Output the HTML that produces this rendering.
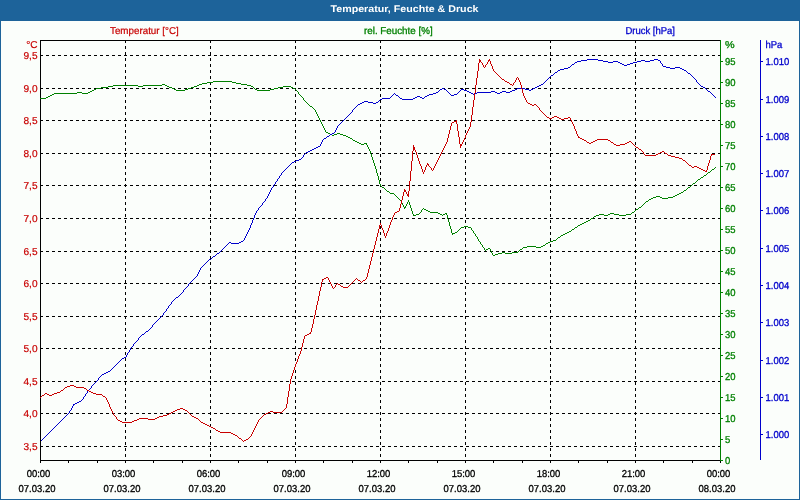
<!DOCTYPE html>
<html><head><meta charset="utf-8"><title>Temperatur, Feuchte &amp; Druck</title>
<style>
html,body{margin:0;padding:0;background:#1d639a;}
body{width:800px;height:500px;overflow:hidden;position:relative;}
svg{position:absolute;left:0;top:0;display:block;}
text{font-family:"Liberation Sans",sans-serif;font-size:10px;text-rendering:geometricPrecision;}
.t{font-weight:bold;font-size:9.7px;fill:#fff;}
.r{fill:#c80000;stroke:#c80000;} .g{fill:#008000;stroke:#008000;} .b{fill:#0000cc;stroke:#0000cc;} .k{fill:#000;stroke:#000;}
.r,.g,.b,.k{stroke-width:0.3px;} .r{stroke-width:0.2px;}
</style></head><body>
<svg width="800" height="500" viewBox="0 0 800 500">
<rect x="0" y="0" width="800" height="500" fill="#1d639a"/>
<rect x="1" y="21" width="798" height="478" fill="#fbfefb"/>
<text class="t" x="404.5" y="12" text-anchor="middle" textLength="148" lengthAdjust="spacingAndGlyphs">Temperatur, Feuchte &amp; Druck</text>
<g shape-rendering="crispEdges" fill="none" stroke-width="1">

<line x1="40" y1="55.5" x2="720" y2="55.5" stroke="#000" stroke-dasharray="3 3"/>
<line x1="40" y1="88.5" x2="720" y2="88.5" stroke="#000" stroke-dasharray="3 3"/>
<line x1="40" y1="120.5" x2="720" y2="120.5" stroke="#000" stroke-dasharray="3 3"/>
<line x1="40" y1="153.5" x2="720" y2="153.5" stroke="#000" stroke-dasharray="3 3"/>
<line x1="40" y1="185.5" x2="720" y2="185.5" stroke="#000" stroke-dasharray="3 3"/>
<line x1="40" y1="218.5" x2="720" y2="218.5" stroke="#000" stroke-dasharray="3 3"/>
<line x1="40" y1="251.5" x2="720" y2="251.5" stroke="#000" stroke-dasharray="3 3"/>
<line x1="40" y1="283.5" x2="720" y2="283.5" stroke="#000" stroke-dasharray="3 3"/>
<line x1="40" y1="316.5" x2="720" y2="316.5" stroke="#000" stroke-dasharray="3 3"/>
<line x1="40" y1="348.5" x2="720" y2="348.5" stroke="#000" stroke-dasharray="3 3"/>
<line x1="40" y1="381.5" x2="720" y2="381.5" stroke="#000" stroke-dasharray="3 3"/>
<line x1="40" y1="413.5" x2="720" y2="413.5" stroke="#000" stroke-dasharray="3 3"/>
<line x1="40" y1="446.5" x2="720" y2="446.5" stroke="#000" stroke-dasharray="3 3"/>
<line x1="125.5" y1="40" x2="125.5" y2="460" stroke="#000" stroke-dasharray="3 3"/>
<line x1="210.5" y1="40" x2="210.5" y2="460" stroke="#000" stroke-dasharray="3 3"/>
<line x1="295.5" y1="40" x2="295.5" y2="460" stroke="#000" stroke-dasharray="3 3"/>
<line x1="380.5" y1="40" x2="380.5" y2="460" stroke="#000" stroke-dasharray="3 3"/>
<line x1="465.5" y1="40" x2="465.5" y2="460" stroke="#000" stroke-dasharray="3 3"/>
<line x1="550.5" y1="40" x2="550.5" y2="460" stroke="#000" stroke-dasharray="3 3"/>
<line x1="635.5" y1="40" x2="635.5" y2="460" stroke="#000" stroke-dasharray="3 3"/>
<line x1="40" y1="40.5" x2="721" y2="40.5" stroke="#000"/>
<line x1="40.5" y1="40" x2="40.5" y2="461" stroke="#000"/>
<line x1="40" y1="460.5" x2="721" y2="460.5" stroke="#000"/>
<line x1="40.5" y1="461" x2="40.5" y2="463" stroke="#000"/>
<line x1="68.5" y1="461" x2="68.5" y2="463" stroke="#000"/>
<line x1="97.5" y1="461" x2="97.5" y2="463" stroke="#000"/>
<line x1="125.5" y1="461" x2="125.5" y2="463" stroke="#000"/>
<line x1="153.5" y1="461" x2="153.5" y2="463" stroke="#000"/>
<line x1="182.5" y1="461" x2="182.5" y2="463" stroke="#000"/>
<line x1="210.5" y1="461" x2="210.5" y2="463" stroke="#000"/>
<line x1="238.5" y1="461" x2="238.5" y2="463" stroke="#000"/>
<line x1="267.5" y1="461" x2="267.5" y2="463" stroke="#000"/>
<line x1="295.5" y1="461" x2="295.5" y2="463" stroke="#000"/>
<line x1="323.5" y1="461" x2="323.5" y2="463" stroke="#000"/>
<line x1="352.5" y1="461" x2="352.5" y2="463" stroke="#000"/>
<line x1="380.5" y1="461" x2="380.5" y2="463" stroke="#000"/>
<line x1="408.5" y1="461" x2="408.5" y2="463" stroke="#000"/>
<line x1="437.5" y1="461" x2="437.5" y2="463" stroke="#000"/>
<line x1="465.5" y1="461" x2="465.5" y2="463" stroke="#000"/>
<line x1="493.5" y1="461" x2="493.5" y2="463" stroke="#000"/>
<line x1="522.5" y1="461" x2="522.5" y2="463" stroke="#000"/>
<line x1="550.5" y1="461" x2="550.5" y2="463" stroke="#000"/>
<line x1="578.5" y1="461" x2="578.5" y2="463" stroke="#000"/>
<line x1="607.5" y1="461" x2="607.5" y2="463" stroke="#000"/>
<line x1="635.5" y1="461" x2="635.5" y2="463" stroke="#000"/>
<line x1="663.5" y1="461" x2="663.5" y2="463" stroke="#000"/>
<line x1="692.5" y1="461" x2="692.5" y2="463" stroke="#000"/>
<line x1="720.5" y1="461" x2="720.5" y2="463" stroke="#000"/>
<line x1="720.5" y1="40" x2="720.5" y2="461" stroke="#008000"/>
<line x1="721" y1="460.5" x2="723" y2="460.5" stroke="#008000"/>
<line x1="721" y1="439.5" x2="723" y2="439.5" stroke="#008000"/>
<line x1="721" y1="418.5" x2="723" y2="418.5" stroke="#008000"/>
<line x1="721" y1="397.5" x2="723" y2="397.5" stroke="#008000"/>
<line x1="721" y1="376.5" x2="723" y2="376.5" stroke="#008000"/>
<line x1="721" y1="355.5" x2="723" y2="355.5" stroke="#008000"/>
<line x1="721" y1="334.5" x2="723" y2="334.5" stroke="#008000"/>
<line x1="721" y1="313.5" x2="723" y2="313.5" stroke="#008000"/>
<line x1="721" y1="292.5" x2="723" y2="292.5" stroke="#008000"/>
<line x1="721" y1="271.5" x2="723" y2="271.5" stroke="#008000"/>
<line x1="721" y1="250.5" x2="723" y2="250.5" stroke="#008000"/>
<line x1="721" y1="229.5" x2="723" y2="229.5" stroke="#008000"/>
<line x1="721" y1="208.5" x2="723" y2="208.5" stroke="#008000"/>
<line x1="721" y1="187.5" x2="723" y2="187.5" stroke="#008000"/>
<line x1="721" y1="166.5" x2="723" y2="166.5" stroke="#008000"/>
<line x1="721" y1="145.5" x2="723" y2="145.5" stroke="#008000"/>
<line x1="721" y1="124.5" x2="723" y2="124.5" stroke="#008000"/>
<line x1="721" y1="103.5" x2="723" y2="103.5" stroke="#008000"/>
<line x1="721" y1="82.5" x2="723" y2="82.5" stroke="#008000"/>
<line x1="721" y1="61.5" x2="723" y2="61.5" stroke="#008000"/>
<line x1="760.5" y1="40" x2="760.5" y2="460" stroke="#0000cc"/>
<line x1="761" y1="434.5" x2="763" y2="434.5" stroke="#0000cc"/>
<line x1="761" y1="397.5" x2="763" y2="397.5" stroke="#0000cc"/>
<line x1="761" y1="360.5" x2="763" y2="360.5" stroke="#0000cc"/>
<line x1="761" y1="322.5" x2="763" y2="322.5" stroke="#0000cc"/>
<line x1="761" y1="285.5" x2="763" y2="285.5" stroke="#0000cc"/>
<line x1="761" y1="248.5" x2="763" y2="248.5" stroke="#0000cc"/>
<line x1="761" y1="210.5" x2="763" y2="210.5" stroke="#0000cc"/>
<line x1="761" y1="173.5" x2="763" y2="173.5" stroke="#0000cc"/>
<line x1="761" y1="136.5" x2="763" y2="136.5" stroke="#0000cc"/>
<line x1="761" y1="99.5" x2="763" y2="99.5" stroke="#0000cc"/>
<line x1="761" y1="61.5" x2="763" y2="61.5" stroke="#0000cc"/>
<path d="M298 92h1v2h-1zM303 98h1v2h-1zM315 110h1v2h-1zM316 112h1v2h-1zM317 114h1v2h-1zM318 116h1v2h-1zM319 118h1v2h-1zM320 120h1v2h-1zM321 122h1v2h-1zM322 124h1v2h-1zM323 126h1v2h-1zM324 128h1v2h-1zM325 130h1v2h-1zM366 143h1v2h-1zM367 145h1v2h-1zM368 147h1v2h-1zM369 149h1v2h-1zM370 151h1v3h-1zM371 154h1v3h-1zM372 157h1v3h-1zM373 160h1v3h-1zM374 163h1v3h-1zM375 166h1v3h-1zM376 169h1v4h-1zM377 173h1v3h-1zM378 176h1v4h-1zM379 180h1v4h-1zM380 184h1v2h-1zM401 201h1v2h-1zM402 203h1v2h-1zM403 205h1v2h-1zM404 207h1v2h-1zM405 206h1v2h-1zM406 204h1v2h-1zM407 202h1v2h-1zM408 200h1v2h-1zM409 202h1v3h-1zM410 205h1v3h-1zM411 208h1v3h-1zM412 211h1v3h-1zM413 214h1v2h-1zM421 210h1v2h-1zM446 213h1v2h-1zM447 215h1v4h-1zM448 219h1v3h-1zM449 222h1v4h-1zM450 226h1v3h-1zM451 229h1v4h-1zM452 233h1v2h-1zM471 228h1v2h-1zM473 231h1v2h-1zM475 234h1v2h-1zM477 237h1v2h-1zM478 239h1v2h-1zM480 242h1v2h-1zM482 245h1v2h-1zM484 248h1v2h-1zM490 249h1v2h-1zM491 251h1v2h-1zM492 253h1v2h-1zM213 81h19v1h-19zM207 82h6v1h-6zM232 82h4v1h-4zM202 83h5v1h-5zM236 83h5v1h-5zM162 84h3v1h-3zM199 84h3v1h-3zM241 84h6v1h-6zM113 85h25v1h-25zM143 85h19v1h-19zM165 85h2v1h-2zM197 85h2v1h-2zM247 85h4v1h-4zM108 86h5v1h-5zM138 86h5v1h-5zM167 86h2v1h-2zM194 86h3v1h-3zM251 86h2v1h-2zM283 86h8v1h-8zM101 87h7v1h-7zM169 87h3v1h-3zM191 87h3v1h-3zM253 87h1v1h-1zM278 87h5v1h-5zM291 87h2v1h-2zM96 88h5v1h-5zM172 88h2v1h-2zM188 88h3v1h-3zM254 88h1v1h-1zM274 88h4v1h-4zM293 88h2v1h-2zM94 89h2v1h-2zM174 89h2v1h-2zM185 89h3v1h-3zM255 89h2v1h-2zM270 89h4v1h-4zM295 89h1v1h-1zM92 90h2v1h-2zM176 90h9v1h-9zM257 90h13v1h-13zM296 90h1v1h-1zM90 91h2v1h-2zM297 91h1v1h-1zM77 92h5v1h-5zM88 92h2v1h-2zM54 93h23v1h-23zM82 93h6v1h-6zM52 94h2v1h-2zM299 94h1v1h-1zM50 95h2v1h-2zM300 95h1v1h-1zM48 96h2v1h-2zM301 96h1v1h-1zM46 97h2v1h-2zM302 97h1v1h-1zM40 98h6v1h-6zM304 100h1v1h-1zM305 101h1v1h-1zM306 102h1v1h-1zM307 103h1v1h-1zM308 104h1v1h-1zM309 105h1v1h-1zM310 106h2v1h-2zM312 107h1v1h-1zM313 108h1v1h-1zM314 109h1v1h-1zM326 132h2v1h-2zM328 133h2v1h-2zM337 133h3v1h-3zM330 134h2v1h-2zM334 134h3v1h-3zM340 134h3v1h-3zM332 135h2v1h-2zM343 135h3v1h-3zM346 136h2v1h-2zM348 137h2v1h-2zM350 138h2v1h-2zM352 139h1v1h-1zM353 140h2v1h-2zM355 141h2v1h-2zM357 142h2v1h-2zM359 143h2v1h-2zM364 143h2v1h-2zM361 144h3v1h-3zM715 167h1v1h-1zM714 168h1v1h-1zM712 169h2v1h-2zM711 170h1v1h-1zM710 171h1v1h-1zM708 172h2v1h-2zM707 173h1v1h-1zM706 174h1v1h-1zM704 175h2v1h-2zM703 176h1v1h-1zM701 177h2v1h-2zM700 178h1v1h-1zM698 179h2v1h-2zM697 180h1v1h-1zM696 181h1v1h-1zM695 182h1v1h-1zM693 183h2v1h-2zM692 184h1v1h-1zM691 185h1v1h-1zM381 186h1v1h-1zM690 186h1v1h-1zM382 187h2v1h-2zM688 187h2v1h-2zM384 188h1v1h-1zM687 188h1v1h-1zM385 189h1v1h-1zM686 189h1v1h-1zM386 190h1v1h-1zM684 190h2v1h-2zM387 191h2v1h-2zM683 191h1v1h-1zM389 192h1v1h-1zM681 192h2v1h-2zM390 193h4v1h-4zM679 193h2v1h-2zM394 194h1v1h-1zM677 194h2v1h-2zM395 195h1v1h-1zM675 195h2v1h-2zM396 196h1v1h-1zM656 196h4v1h-4zM673 196h2v1h-2zM397 197h1v1h-1zM653 197h3v1h-3zM660 197h2v1h-2zM668 197h5v1h-5zM398 198h1v1h-1zM651 198h2v1h-2zM662 198h6v1h-6zM399 199h1v1h-1zM649 199h2v1h-2zM400 200h1v1h-1zM648 200h1v1h-1zM646 201h2v1h-2zM645 202h1v1h-1zM644 203h1v1h-1zM643 204h1v1h-1zM642 205h1v1h-1zM641 206h1v1h-1zM639 207h2v1h-2zM423 208h1v1h-1zM638 208h1v1h-1zM422 209h1v1h-1zM424 209h2v1h-2zM636 209h2v1h-2zM426 210h2v1h-2zM635 210h1v1h-1zM428 211h2v1h-2zM634 211h1v1h-1zM420 212h1v1h-1zM430 212h8v1h-8zM632 212h2v1h-2zM419 213h1v1h-1zM438 213h2v1h-2zM445 213h1v1h-1zM610 213h4v1h-4zM631 213h1v1h-1zM416 214h3v1h-3zM440 214h2v1h-2zM443 214h2v1h-2zM599 214h5v1h-5zM608 214h2v1h-2zM614 214h5v1h-5zM626 214h5v1h-5zM414 215h2v1h-2zM442 215h1v1h-1zM596 215h3v1h-3zM604 215h4v1h-4zM619 215h7v1h-7zM594 216h2v1h-2zM593 217h1v1h-1zM591 218h2v1h-2zM590 219h1v1h-1zM588 220h2v1h-2zM586 221h2v1h-2zM584 222h2v1h-2zM582 223h2v1h-2zM580 224h2v1h-2zM578 225h2v1h-2zM464 226h4v1h-4zM577 226h1v1h-1zM461 227h3v1h-3zM468 227h3v1h-3zM575 227h2v1h-2zM460 228h1v1h-1zM574 228h1v1h-1zM459 229h1v1h-1zM572 229h2v1h-2zM458 230h1v1h-1zM472 230h1v1h-1zM571 230h1v1h-1zM457 231h1v1h-1zM569 231h2v1h-2zM455 232h2v1h-2zM567 232h2v1h-2zM453 233h2v1h-2zM474 233h1v1h-1zM565 233h2v1h-2zM563 234h2v1h-2zM561 235h2v1h-2zM476 236h1v1h-1zM560 236h1v1h-1zM558 237h2v1h-2zM557 238h1v1h-1zM556 239h1v1h-1zM553 240h3v1h-3zM479 241h1v1h-1zM550 241h3v1h-3zM548 242h2v1h-2zM546 243h2v1h-2zM481 244h1v1h-1zM545 244h1v1h-1zM543 245h2v1h-2zM527 246h9v1h-9zM541 246h2v1h-2zM483 247h1v1h-1zM523 247h4v1h-4zM536 247h5v1h-5zM488 248h2v1h-2zM522 248h1v1h-1zM486 249h2v1h-2zM520 249h2v1h-2zM485 250h1v1h-1zM519 250h1v1h-1zM518 251h1v1h-1zM502 252h3v1h-3zM512 252h6v1h-6zM498 253h4v1h-4zM505 253h7v1h-7zM495 254h3v1h-3zM493 255h2v1h-2z" fill="#008000" stroke="none"/>
<path d="M69 411h1v2h-1zM71 408h1v2h-1zM72 406h1v2h-1zM73 404h1v2h-1zM83 397h1v2h-1zM85 394h1v2h-1zM87 391h1v2h-1zM91 386h1v2h-1zM98 378h1v2h-1zM126 355h1v2h-1zM127 353h1v2h-1zM129 350h1v2h-1zM130 348h1v2h-1zM133 344h1v2h-1zM138 338h1v2h-1zM152 325h1v2h-1zM163 313h1v2h-1zM166 309h1v2h-1zM168 306h1v2h-1zM171 302h1v2h-1zM183 290h1v2h-1zM188 284h1v2h-1zM197 274h1v2h-1zM198 272h1v2h-1zM199 270h1v2h-1zM200 268h1v2h-1zM244 238h1v2h-1zM245 236h1v2h-1zM246 234h1v2h-1zM247 232h1v2h-1zM248 230h1v2h-1zM249 228h1v2h-1zM250 225h1v3h-1zM251 223h1v2h-1zM252 220h1v3h-1zM253 218h1v2h-1zM254 215h1v3h-1zM255 213h1v2h-1zM256 211h1v2h-1zM258 208h1v2h-1zM262 203h1v2h-1zM265 199h1v2h-1zM267 196h1v2h-1zM268 194h1v2h-1zM269 192h1v2h-1zM270 190h1v2h-1zM271 188h1v2h-1zM273 185h1v2h-1zM275 182h1v2h-1zM277 179h1v2h-1zM279 176h1v2h-1zM281 173h1v2h-1zM303 155h1v2h-1zM320 144h1v2h-1zM321 142h1v2h-1zM322 140h1v2h-1zM335 130h1v2h-1zM336 128h1v2h-1zM337 126h1v2h-1zM352 110h1v2h-1zM660 61h1v2h-1zM662 64h1v2h-1zM696 80h1v2h-1zM587 59h11v1h-11zM654 59h4v1h-4zM581 60h6v1h-6zM598 60h5v1h-5zM641 60h4v1h-4zM650 60h4v1h-4zM658 60h2v1h-2zM577 61h4v1h-4zM603 61h5v1h-5zM613 61h5v1h-5zM637 61h4v1h-4zM645 61h5v1h-5zM575 62h2v1h-2zM608 62h5v1h-5zM618 62h2v1h-2zM633 62h4v1h-4zM574 63h1v1h-1zM620 63h2v1h-2zM630 63h3v1h-3zM661 63h1v1h-1zM572 64h2v1h-2zM622 64h2v1h-2zM627 64h3v1h-3zM571 65h1v1h-1zM624 65h3v1h-3zM570 66h1v1h-1zM663 66h3v1h-3zM568 67h2v1h-2zM666 67h4v1h-4zM675 67h5v1h-5zM564 68h4v1h-4zM670 68h5v1h-5zM680 68h2v1h-2zM560 69h4v1h-4zM682 69h2v1h-2zM558 70h2v1h-2zM684 70h2v1h-2zM557 71h1v1h-1zM686 71h1v1h-1zM555 72h2v1h-2zM687 72h1v1h-1zM554 73h1v1h-1zM688 73h2v1h-2zM553 74h1v1h-1zM690 74h1v1h-1zM551 75h2v1h-2zM691 75h1v1h-1zM550 76h1v1h-1zM692 76h1v1h-1zM549 77h1v1h-1zM693 77h1v1h-1zM548 78h1v1h-1zM694 78h1v1h-1zM547 79h1v1h-1zM695 79h1v1h-1zM546 80h1v1h-1zM545 81h1v1h-1zM544 82h1v1h-1zM697 82h1v1h-1zM543 83h1v1h-1zM698 83h1v1h-1zM541 84h2v1h-2zM699 84h1v1h-1zM539 85h2v1h-2zM700 85h1v1h-1zM537 86h2v1h-2zM701 86h2v1h-2zM535 87h2v1h-2zM703 87h2v1h-2zM442 88h2v1h-2zM517 88h8v1h-8zM533 88h2v1h-2zM705 88h1v1h-1zM440 89h2v1h-2zM444 89h2v1h-2zM461 89h3v1h-3zM515 89h2v1h-2zM525 89h4v1h-4zM531 89h2v1h-2zM706 89h1v1h-1zM439 90h1v1h-1zM446 90h1v1h-1zM460 90h1v1h-1zM464 90h3v1h-3zM512 90h3v1h-3zM529 90h2v1h-2zM707 90h1v1h-1zM438 91h1v1h-1zM447 91h1v1h-1zM459 91h1v1h-1zM467 91h2v1h-2zM491 91h4v1h-4zM502 91h4v1h-4zM510 91h2v1h-2zM708 91h2v1h-2zM436 92h2v1h-2zM448 92h1v1h-1zM458 92h1v1h-1zM469 92h2v1h-2zM477 92h14v1h-14zM495 92h2v1h-2zM500 92h2v1h-2zM506 92h4v1h-4zM710 92h1v1h-1zM394 93h1v1h-1zM433 93h3v1h-3zM449 93h1v1h-1zM457 93h1v1h-1zM471 93h2v1h-2zM475 93h2v1h-2zM497 93h3v1h-3zM711 93h1v1h-1zM393 94h1v1h-1zM395 94h1v1h-1zM429 94h4v1h-4zM450 94h1v1h-1zM454 94h3v1h-3zM473 94h2v1h-2zM712 94h1v1h-1zM392 95h1v1h-1zM396 95h2v1h-2zM427 95h2v1h-2zM451 95h3v1h-3zM713 95h1v1h-1zM391 96h1v1h-1zM398 96h1v1h-1zM417 96h3v1h-3zM425 96h2v1h-2zM714 96h1v1h-1zM390 97h1v1h-1zM399 97h1v1h-1zM415 97h2v1h-2zM420 97h2v1h-2zM424 97h1v1h-1zM715 97h1v1h-1zM382 98h8v1h-8zM400 98h2v1h-2zM413 98h2v1h-2zM422 98h2v1h-2zM380 99h2v1h-2zM402 99h11v1h-11zM379 100h1v1h-1zM364 101h4v1h-4zM378 101h1v1h-1zM362 102h2v1h-2zM368 102h5v1h-5zM376 102h2v1h-2zM360 103h2v1h-2zM373 103h3v1h-3zM358 104h2v1h-2zM357 105h1v1h-1zM356 106h1v1h-1zM355 107h1v1h-1zM354 108h1v1h-1zM353 109h1v1h-1zM351 112h1v1h-1zM350 113h1v1h-1zM349 114h1v1h-1zM348 115h1v1h-1zM347 116h1v1h-1zM346 117h1v1h-1zM345 118h1v1h-1zM344 119h1v1h-1zM343 120h1v1h-1zM342 121h1v1h-1zM341 122h1v1h-1zM340 123h1v1h-1zM339 124h1v1h-1zM338 125h1v1h-1zM334 132h1v1h-1zM332 133h2v1h-2zM330 134h2v1h-2zM329 135h1v1h-1zM327 136h2v1h-2zM326 137h1v1h-1zM324 138h2v1h-2zM323 139h1v1h-1zM318 146h2v1h-2zM316 147h2v1h-2zM314 148h2v1h-2zM312 149h2v1h-2zM310 150h2v1h-2zM308 151h2v1h-2zM306 152h2v1h-2zM305 153h1v1h-1zM304 154h1v1h-1zM302 157h1v1h-1zM301 158h1v1h-1zM299 159h2v1h-2zM296 160h3v1h-3zM294 161h2v1h-2zM292 162h2v1h-2zM291 163h1v1h-1zM290 164h1v1h-1zM289 165h1v1h-1zM288 166h1v1h-1zM287 167h1v1h-1zM286 168h1v1h-1zM285 169h1v1h-1zM284 170h1v1h-1zM283 171h1v1h-1zM282 172h1v1h-1zM280 175h1v1h-1zM278 178h1v1h-1zM276 181h1v1h-1zM274 184h1v1h-1zM272 187h1v1h-1zM266 198h1v1h-1zM264 201h1v1h-1zM263 202h1v1h-1zM261 205h1v1h-1zM260 206h1v1h-1zM259 207h1v1h-1zM257 210h1v1h-1zM243 240h1v1h-1zM241 241h2v1h-2zM229 242h2v1h-2zM239 242h2v1h-2zM228 243h1v1h-1zM231 243h8v1h-8zM227 244h1v1h-1zM226 245h1v1h-1zM225 246h1v1h-1zM224 247h1v1h-1zM223 248h1v1h-1zM222 249h1v1h-1zM221 250h1v1h-1zM220 251h1v1h-1zM219 252h1v1h-1zM217 253h2v1h-2zM216 254h1v1h-1zM215 255h1v1h-1zM213 256h2v1h-2zM212 257h1v1h-1zM211 258h1v1h-1zM209 259h2v1h-2zM208 260h1v1h-1zM207 261h1v1h-1zM206 262h1v1h-1zM205 263h1v1h-1zM204 264h1v1h-1zM203 265h1v1h-1zM202 266h1v1h-1zM201 267h1v1h-1zM196 276h1v1h-1zM195 277h1v1h-1zM194 278h1v1h-1zM193 279h1v1h-1zM192 280h1v1h-1zM191 281h1v1h-1zM190 282h1v1h-1zM189 283h1v1h-1zM187 286h1v1h-1zM186 287h1v1h-1zM185 288h1v1h-1zM184 289h1v1h-1zM182 292h1v1h-1zM181 293h1v1h-1zM180 294h1v1h-1zM179 295h1v1h-1zM178 296h1v1h-1zM176 297h2v1h-2zM175 298h1v1h-1zM174 299h1v1h-1zM173 300h1v1h-1zM172 301h1v1h-1zM170 304h1v1h-1zM169 305h1v1h-1zM167 308h1v1h-1zM165 311h1v1h-1zM164 312h1v1h-1zM162 315h1v1h-1zM161 316h1v1h-1zM160 317h1v1h-1zM159 318h1v1h-1zM158 319h1v1h-1zM157 320h1v1h-1zM156 321h1v1h-1zM155 322h1v1h-1zM154 323h1v1h-1zM153 324h1v1h-1zM151 327h1v1h-1zM150 328h1v1h-1zM149 329h1v1h-1zM148 330h1v1h-1zM146 331h2v1h-2zM145 332h1v1h-1zM144 333h1v1h-1zM142 334h2v1h-2zM141 335h1v1h-1zM140 336h1v1h-1zM139 337h1v1h-1zM137 340h1v1h-1zM136 341h1v1h-1zM135 342h1v1h-1zM134 343h1v1h-1zM132 346h1v1h-1zM131 347h1v1h-1zM128 352h1v1h-1zM124 357h2v1h-2zM122 358h2v1h-2zM121 359h1v1h-1zM120 360h1v1h-1zM119 361h1v1h-1zM118 362h1v1h-1zM117 363h1v1h-1zM116 364h1v1h-1zM115 365h1v1h-1zM114 366h1v1h-1zM113 367h1v1h-1zM112 368h1v1h-1zM111 369h1v1h-1zM110 370h1v1h-1zM108 371h2v1h-2zM106 372h2v1h-2zM104 373h2v1h-2zM102 374h2v1h-2zM101 375h1v1h-1zM100 376h1v1h-1zM99 377h1v1h-1zM97 380h1v1h-1zM96 381h1v1h-1zM95 382h1v1h-1zM94 383h1v1h-1zM93 384h1v1h-1zM92 385h1v1h-1zM90 388h1v1h-1zM89 389h1v1h-1zM88 390h1v1h-1zM86 393h1v1h-1zM84 396h1v1h-1zM82 399h1v1h-1zM81 400h1v1h-1zM79 401h2v1h-2zM77 402h2v1h-2zM75 403h2v1h-2zM74 404h1v1h-1zM70 410h1v1h-1zM68 413h1v1h-1zM67 414h1v1h-1zM66 415h1v1h-1zM65 416h1v1h-1zM64 417h1v1h-1zM63 418h1v1h-1zM62 419h1v1h-1zM61 420h1v1h-1zM60 421h1v1h-1zM59 422h1v1h-1zM58 423h1v1h-1zM57 424h1v1h-1zM56 425h1v1h-1zM55 426h1v1h-1zM54 427h1v1h-1zM53 428h1v1h-1zM52 429h1v1h-1zM51 430h1v1h-1zM50 431h1v1h-1zM49 432h1v1h-1zM48 433h1v1h-1zM47 434h1v1h-1zM46 435h1v1h-1zM45 436h1v1h-1zM44 437h1v1h-1zM43 438h1v1h-1zM42 439h1v1h-1zM41 440h1v1h-1z" fill="#0000cc" stroke="none"/>
<path d="M106 398h1v2h-1zM107 400h1v2h-1zM108 402h1v2h-1zM109 404h1v3h-1zM110 407h1v2h-1zM111 409h1v2h-1zM112 411h1v2h-1zM113 413h1v2h-1zM116 417h1v2h-1zM251 434h1v2h-1zM252 432h1v2h-1zM253 430h1v2h-1zM254 428h1v2h-1zM255 426h1v2h-1zM256 424h1v2h-1zM257 422h1v2h-1zM258 420h1v2h-1zM286 404h1v4h-1zM287 397h1v7h-1zM288 391h1v6h-1zM289 384h1v7h-1zM290 379h1v5h-1zM291 376h1v3h-1zM292 373h1v3h-1zM293 370h1v3h-1zM294 367h1v3h-1zM295 364h1v3h-1zM296 362h1v2h-1zM297 359h1v3h-1zM298 356h1v3h-1zM299 354h1v2h-1zM300 351h1v3h-1zM301 347h1v4h-1zM302 343h1v4h-1zM303 339h1v4h-1zM304 336h1v3h-1zM310 332h1v2h-1zM311 328h1v4h-1zM312 324h1v4h-1zM313 319h1v5h-1zM314 315h1v4h-1zM315 310h1v5h-1zM316 305h1v5h-1zM317 301h1v4h-1zM318 296h1v5h-1zM319 291h1v5h-1zM320 287h1v4h-1zM321 282h1v5h-1zM322 279h1v3h-1zM328 278h1v2h-1zM329 280h1v2h-1zM330 282h1v2h-1zM331 284h1v2h-1zM332 286h1v2h-1zM335 285h1v2h-1zM366 277h1v2h-1zM367 273h1v4h-1zM368 269h1v4h-1zM369 265h1v4h-1zM370 261h1v4h-1zM371 257h1v4h-1zM372 253h1v4h-1zM373 249h1v4h-1zM374 245h1v4h-1zM375 241h1v4h-1zM376 237h1v4h-1zM377 233h1v4h-1zM378 229h1v4h-1zM379 225h1v4h-1zM380 223h1v2h-1zM381 225h1v3h-1zM382 228h1v2h-1zM383 230h1v3h-1zM384 233h1v3h-1zM385 236h1v2h-1zM386 233h1v3h-1zM387 231h1v2h-1zM388 228h1v3h-1zM389 225h1v3h-1zM390 222h1v3h-1zM391 220h1v2h-1zM392 217h1v3h-1zM393 215h1v2h-1zM394 213h1v2h-1zM399 208h1v3h-1zM400 204h1v4h-1zM401 200h1v4h-1zM402 196h1v4h-1zM403 192h1v4h-1zM404 189h1v3h-1zM405 190h1v2h-1zM406 192h1v2h-1zM407 194h1v2h-1zM408 191h1v6h-1zM409 181h1v10h-1zM410 171h1v10h-1zM411 161h1v10h-1zM412 151h1v10h-1zM413 145h1v6h-1zM414 147h1v3h-1zM415 150h1v2h-1zM416 152h1v3h-1zM417 155h1v3h-1zM418 158h1v3h-1zM419 161h1v3h-1zM420 164h1v2h-1zM421 166h1v3h-1zM422 169h1v3h-1zM423 172h1v2h-1zM424 170h1v2h-1zM425 167h1v3h-1zM426 165h1v2h-1zM427 163h1v2h-1zM428 164h1v2h-1zM431 168h1v2h-1zM433 168h1v2h-1zM434 166h1v2h-1zM435 164h1v2h-1zM436 162h1v2h-1zM437 160h1v2h-1zM438 158h1v2h-1zM439 156h1v2h-1zM440 154h1v2h-1zM441 152h1v2h-1zM442 150h1v2h-1zM443 148h1v2h-1zM444 146h1v2h-1zM445 144h1v2h-1zM446 142h1v2h-1zM447 138h1v4h-1zM448 134h1v4h-1zM449 130h1v4h-1zM450 126h1v4h-1zM451 123h1v3h-1zM456 120h1v4h-1zM457 124h1v7h-1zM458 131h1v6h-1zM459 137h1v7h-1zM460 144h1v4h-1zM461 144h1v2h-1zM462 142h1v2h-1zM463 140h1v2h-1zM464 138h1v2h-1zM465 135h1v3h-1zM466 133h1v2h-1zM467 131h1v2h-1zM468 129h1v2h-1zM469 127h1v2h-1zM470 122h1v5h-1zM471 115h1v7h-1zM472 107h1v8h-1zM473 100h1v7h-1zM474 93h1v7h-1zM475 85h1v8h-1zM476 78h1v7h-1zM477 71h1v7h-1zM478 63h1v8h-1zM479 59h1v4h-1zM480 60h1v2h-1zM482 63h1v2h-1zM483 65h1v2h-1zM485 65h1v2h-1zM487 62h1v2h-1zM488 60h1v2h-1zM489 59h1v2h-1zM490 61h1v3h-1zM491 64h1v2h-1zM492 66h1v3h-1zM493 69h1v2h-1zM513 83h1v2h-1zM515 80h1v2h-1zM516 78h1v2h-1zM518 78h1v2h-1zM519 80h1v2h-1zM520 82h1v3h-1zM521 85h1v4h-1zM522 89h1v4h-1zM523 93h1v3h-1zM524 96h1v2h-1zM525 98h1v2h-1zM526 100h1v2h-1zM539 108h1v2h-1zM570 118h1v2h-1zM571 120h1v2h-1zM572 122h1v2h-1zM573 124h1v2h-1zM574 126h1v3h-1zM575 129h1v2h-1zM576 131h1v3h-1zM577 134h1v2h-1zM578 136h1v2h-1zM643 152h1v2h-1zM706 170h1v2h-1zM707 166h1v4h-1zM708 163h1v3h-1zM709 160h1v3h-1zM710 156h1v4h-1zM711 154h1v2h-1zM481 62h1v1h-1zM486 64h1v1h-1zM484 67h1v1h-1zM494 71h1v1h-1zM495 72h1v1h-1zM496 73h1v1h-1zM497 74h1v1h-1zM498 75h1v1h-1zM499 76h1v1h-1zM500 77h1v1h-1zM517 77h1v1h-1zM501 78h1v1h-1zM502 79h2v1h-2zM504 80h1v1h-1zM505 81h2v1h-2zM507 82h2v1h-2zM514 82h1v1h-1zM509 83h1v1h-1zM510 84h2v1h-2zM512 85h1v1h-1zM527 102h1v1h-1zM528 103h2v1h-2zM530 104h2v1h-2zM534 104h2v1h-2zM532 105h2v1h-2zM536 105h1v1h-1zM537 106h1v1h-1zM538 107h1v1h-1zM540 110h1v1h-1zM541 111h1v1h-1zM542 112h1v1h-1zM543 113h1v1h-1zM544 114h1v1h-1zM545 115h1v1h-1zM546 116h1v1h-1zM554 116h3v1h-3zM547 117h2v1h-2zM552 117h2v1h-2zM557 117h2v1h-2zM568 117h2v1h-2zM549 118h3v1h-3zM559 118h2v1h-2zM564 118h4v1h-4zM561 119h3v1h-3zM454 121h2v1h-2zM452 122h2v1h-2zM579 137h1v1h-1zM580 138h2v1h-2zM582 139h2v1h-2zM597 139h11v1h-11zM584 140h2v1h-2zM595 140h2v1h-2zM608 140h2v1h-2zM586 141h1v1h-1zM593 141h2v1h-2zM610 141h1v1h-1zM629 141h2v1h-2zM587 142h2v1h-2zM591 142h2v1h-2zM611 142h2v1h-2zM627 142h2v1h-2zM631 142h1v1h-1zM589 143h2v1h-2zM613 143h1v1h-1zM625 143h2v1h-2zM632 143h1v1h-1zM614 144h2v1h-2zM620 144h5v1h-5zM633 144h1v1h-1zM616 145h4v1h-4zM634 145h1v1h-1zM635 146h1v1h-1zM636 147h2v1h-2zM638 148h1v1h-1zM639 149h2v1h-2zM641 150h1v1h-1zM642 151h1v1h-1zM662 151h2v1h-2zM660 152h2v1h-2zM664 152h1v1h-1zM658 153h2v1h-2zM665 153h2v1h-2zM644 154h1v1h-1zM656 154h2v1h-2zM667 154h1v1h-1zM712 154h3v1h-3zM645 155h11v1h-11zM668 155h3v1h-3zM671 156h4v1h-4zM675 157h4v1h-4zM679 158h3v1h-3zM682 159h1v1h-1zM683 160h2v1h-2zM685 161h1v1h-1zM686 162h1v1h-1zM687 163h1v1h-1zM688 164h1v1h-1zM689 165h2v1h-2zM429 166h1v1h-1zM691 166h1v1h-1zM694 166h3v1h-3zM430 167h1v1h-1zM692 167h2v1h-2zM697 167h2v1h-2zM699 168h2v1h-2zM701 169h2v1h-2zM432 170h1v1h-1zM703 170h2v1h-2zM705 171h1v1h-1zM397 211h2v1h-2zM395 212h2v1h-2zM326 277h2v1h-2zM324 278h2v1h-2zM356 278h1v1h-1zM323 279h1v1h-1zM355 279h1v1h-1zM357 279h1v1h-1zM365 279h1v1h-1zM354 280h1v1h-1zM358 280h2v1h-2zM363 280h2v1h-2zM353 281h1v1h-1zM360 281h1v1h-1zM362 281h1v1h-1zM352 282h1v1h-1zM361 282h1v1h-1zM337 283h1v1h-1zM351 283h1v1h-1zM336 284h1v1h-1zM338 284h2v1h-2zM350 284h1v1h-1zM340 285h1v1h-1zM349 285h1v1h-1zM341 286h2v1h-2zM348 286h1v1h-1zM334 287h1v1h-1zM343 287h5v1h-5zM333 288h1v1h-1zM309 333h1v1h-1zM307 334h2v1h-2zM305 335h2v1h-2zM70 385h4v1h-4zM67 386h3v1h-3zM74 386h2v1h-2zM65 387h2v1h-2zM76 387h8v1h-8zM64 388h1v1h-1zM84 388h2v1h-2zM63 389h1v1h-1zM86 389h1v1h-1zM61 390h2v1h-2zM87 390h2v1h-2zM60 391h1v1h-1zM89 391h2v1h-2zM57 392h3v1h-3zM91 392h2v1h-2zM45 393h2v1h-2zM54 393h3v1h-3zM93 393h3v1h-3zM44 394h1v1h-1zM47 394h2v1h-2zM52 394h2v1h-2zM96 394h6v1h-6zM42 395h2v1h-2zM49 395h3v1h-3zM102 395h1v1h-1zM41 396h1v1h-1zM103 396h2v1h-2zM40 397h1v1h-1zM105 397h1v1h-1zM180 408h3v1h-3zM285 408h1v1h-1zM177 409h3v1h-3zM183 409h2v1h-2zM284 409h1v1h-1zM175 410h2v1h-2zM185 410h2v1h-2zM283 410h1v1h-1zM173 411h2v1h-2zM187 411h1v1h-1zM270 411h3v1h-3zM282 411h1v1h-1zM171 412h2v1h-2zM188 412h1v1h-1zM268 412h2v1h-2zM273 412h9v1h-9zM169 413h2v1h-2zM189 413h1v1h-1zM266 413h2v1h-2zM167 414h2v1h-2zM190 414h1v1h-1zM264 414h2v1h-2zM114 415h1v1h-1zM163 415h4v1h-4zM191 415h1v1h-1zM263 415h1v1h-1zM115 416h1v1h-1zM159 416h4v1h-4zM192 416h2v1h-2zM262 416h1v1h-1zM157 417h2v1h-2zM194 417h2v1h-2zM261 417h1v1h-1zM139 418h9v1h-9zM155 418h2v1h-2zM196 418h2v1h-2zM260 418h1v1h-1zM117 419h1v1h-1zM137 419h2v1h-2zM148 419h7v1h-7zM198 419h1v1h-1zM259 419h1v1h-1zM118 420h2v1h-2zM134 420h3v1h-3zM199 420h1v1h-1zM120 421h2v1h-2zM132 421h2v1h-2zM200 421h1v1h-1zM122 422h10v1h-10zM201 422h2v1h-2zM203 423h2v1h-2zM205 424h2v1h-2zM207 425h2v1h-2zM209 426h2v1h-2zM211 427h2v1h-2zM213 428h2v1h-2zM215 429h1v1h-1zM216 430h2v1h-2zM218 431h2v1h-2zM220 432h11v1h-11zM231 433h2v1h-2zM233 434h2v1h-2zM235 435h2v1h-2zM237 436h1v1h-1zM250 436h1v1h-1zM238 437h1v1h-1zM249 437h1v1h-1zM239 438h2v1h-2zM248 438h1v1h-1zM241 439h1v1h-1zM246 439h2v1h-2zM242 440h1v1h-1zM244 440h2v1h-2zM243 441h1v1h-1z" fill="#c80000" stroke="none"/>
</g>
<text class="r" transform="translate(110 34) scale(0.98 1)" text-anchor="start">Temperatur [°C]</text>
<text class="g" transform="translate(364 34) scale(0.98 1)" text-anchor="start">rel. Feuchte [%]</text>
<text class="b" transform="translate(625.5 34) scale(0.946 1)" text-anchor="start">Druck [hPa]</text>
<text class="r" transform="translate(37.5 48) scale(1.01 1)" text-anchor="end">°C</text>
<text class="r" transform="translate(37.5 59) scale(1.01 1)" text-anchor="end">9,5</text>
<text class="r" transform="translate(37.5 92) scale(1.01 1)" text-anchor="end">9,0</text>
<text class="r" transform="translate(37.5 124) scale(1.01 1)" text-anchor="end">8,5</text>
<text class="r" transform="translate(37.5 157) scale(1.01 1)" text-anchor="end">8,0</text>
<text class="r" transform="translate(37.5 189) scale(1.01 1)" text-anchor="end">7,5</text>
<text class="r" transform="translate(37.5 222) scale(1.01 1)" text-anchor="end">7,0</text>
<text class="r" transform="translate(37.5 255) scale(1.01 1)" text-anchor="end">6,5</text>
<text class="r" transform="translate(37.5 287) scale(1.01 1)" text-anchor="end">6,0</text>
<text class="r" transform="translate(37.5 320) scale(1.01 1)" text-anchor="end">5,5</text>
<text class="r" transform="translate(37.5 352) scale(1.01 1)" text-anchor="end">5,0</text>
<text class="r" transform="translate(37.5 385) scale(1.01 1)" text-anchor="end">4,5</text>
<text class="r" transform="translate(37.5 417) scale(1.01 1)" text-anchor="end">4,0</text>
<text class="r" transform="translate(37.5 450) scale(1.01 1)" text-anchor="end">3,5</text>
<text class="g" transform="translate(725 48) scale(1.08 1)" text-anchor="start">%</text>
<text class="g" transform="translate(725 464) scale(0.946 1)" text-anchor="start">0</text>
<text class="g" transform="translate(725 443) scale(0.946 1)" text-anchor="start">5</text>
<text class="g" transform="translate(725 422) scale(0.946 1)" text-anchor="start">10</text>
<text class="g" transform="translate(725 401) scale(0.946 1)" text-anchor="start">15</text>
<text class="g" transform="translate(725 380) scale(0.946 1)" text-anchor="start">20</text>
<text class="g" transform="translate(725 359) scale(0.946 1)" text-anchor="start">25</text>
<text class="g" transform="translate(725 338) scale(0.946 1)" text-anchor="start">30</text>
<text class="g" transform="translate(725 317) scale(0.946 1)" text-anchor="start">35</text>
<text class="g" transform="translate(725 296) scale(0.946 1)" text-anchor="start">40</text>
<text class="g" transform="translate(725 275) scale(0.946 1)" text-anchor="start">45</text>
<text class="g" transform="translate(725 254) scale(0.946 1)" text-anchor="start">50</text>
<text class="g" transform="translate(725 233) scale(0.946 1)" text-anchor="start">55</text>
<text class="g" transform="translate(725 212) scale(0.946 1)" text-anchor="start">60</text>
<text class="g" transform="translate(725 191) scale(0.946 1)" text-anchor="start">65</text>
<text class="g" transform="translate(725 170) scale(0.946 1)" text-anchor="start">70</text>
<text class="g" transform="translate(725 149) scale(0.946 1)" text-anchor="start">75</text>
<text class="g" transform="translate(725 128) scale(0.946 1)" text-anchor="start">80</text>
<text class="g" transform="translate(725 107) scale(0.946 1)" text-anchor="start">85</text>
<text class="g" transform="translate(725 86) scale(0.946 1)" text-anchor="start">90</text>
<text class="g" transform="translate(725 65) scale(0.946 1)" text-anchor="start">95</text>
<text class="b" transform="translate(765.5 48) scale(0.946 1)" text-anchor="start">hPa</text>
<text class="b" transform="translate(765.5 438) scale(0.946 1)" text-anchor="start">1.000</text>
<text class="b" transform="translate(765.5 401) scale(0.946 1)" text-anchor="start">1.001</text>
<text class="b" transform="translate(765.5 364) scale(0.946 1)" text-anchor="start">1.002</text>
<text class="b" transform="translate(765.5 326) scale(0.946 1)" text-anchor="start">1.003</text>
<text class="b" transform="translate(765.5 289) scale(0.946 1)" text-anchor="start">1.004</text>
<text class="b" transform="translate(765.5 252) scale(0.946 1)" text-anchor="start">1.005</text>
<text class="b" transform="translate(765.5 214) scale(0.946 1)" text-anchor="start">1.006</text>
<text class="b" transform="translate(765.5 177) scale(0.946 1)" text-anchor="start">1.007</text>
<text class="b" transform="translate(765.5 140) scale(0.946 1)" text-anchor="start">1.008</text>
<text class="b" transform="translate(765.5 103) scale(0.946 1)" text-anchor="start">1.009</text>
<text class="b" transform="translate(765.5 65) scale(0.946 1)" text-anchor="start">1.010</text>
<text class="k" transform="translate(38.5 477) scale(0.946 1)" text-anchor="middle">00:00</text>
<text class="k" transform="translate(37 492) scale(0.946 1)" text-anchor="middle">07.03.20</text>
<text class="k" transform="translate(123.5 477) scale(0.946 1)" text-anchor="middle">03:00</text>
<text class="k" transform="translate(122 492) scale(0.946 1)" text-anchor="middle">07.03.20</text>
<text class="k" transform="translate(208.5 477) scale(0.946 1)" text-anchor="middle">06:00</text>
<text class="k" transform="translate(207 492) scale(0.946 1)" text-anchor="middle">07.03.20</text>
<text class="k" transform="translate(293.5 477) scale(0.946 1)" text-anchor="middle">09:00</text>
<text class="k" transform="translate(292 492) scale(0.946 1)" text-anchor="middle">07.03.20</text>
<text class="k" transform="translate(378.5 477) scale(0.946 1)" text-anchor="middle">12:00</text>
<text class="k" transform="translate(377 492) scale(0.946 1)" text-anchor="middle">07.03.20</text>
<text class="k" transform="translate(463.5 477) scale(0.946 1)" text-anchor="middle">15:00</text>
<text class="k" transform="translate(462 492) scale(0.946 1)" text-anchor="middle">07.03.20</text>
<text class="k" transform="translate(548.5 477) scale(0.946 1)" text-anchor="middle">18:00</text>
<text class="k" transform="translate(547 492) scale(0.946 1)" text-anchor="middle">07.03.20</text>
<text class="k" transform="translate(633.5 477) scale(0.946 1)" text-anchor="middle">21:00</text>
<text class="k" transform="translate(632 492) scale(0.946 1)" text-anchor="middle">07.03.20</text>
<text class="k" transform="translate(718.5 477) scale(0.946 1)" text-anchor="middle">00:00</text>
<text class="k" transform="translate(717 492) scale(0.946 1)" text-anchor="middle">08.03.20</text>
</svg></body></html>
